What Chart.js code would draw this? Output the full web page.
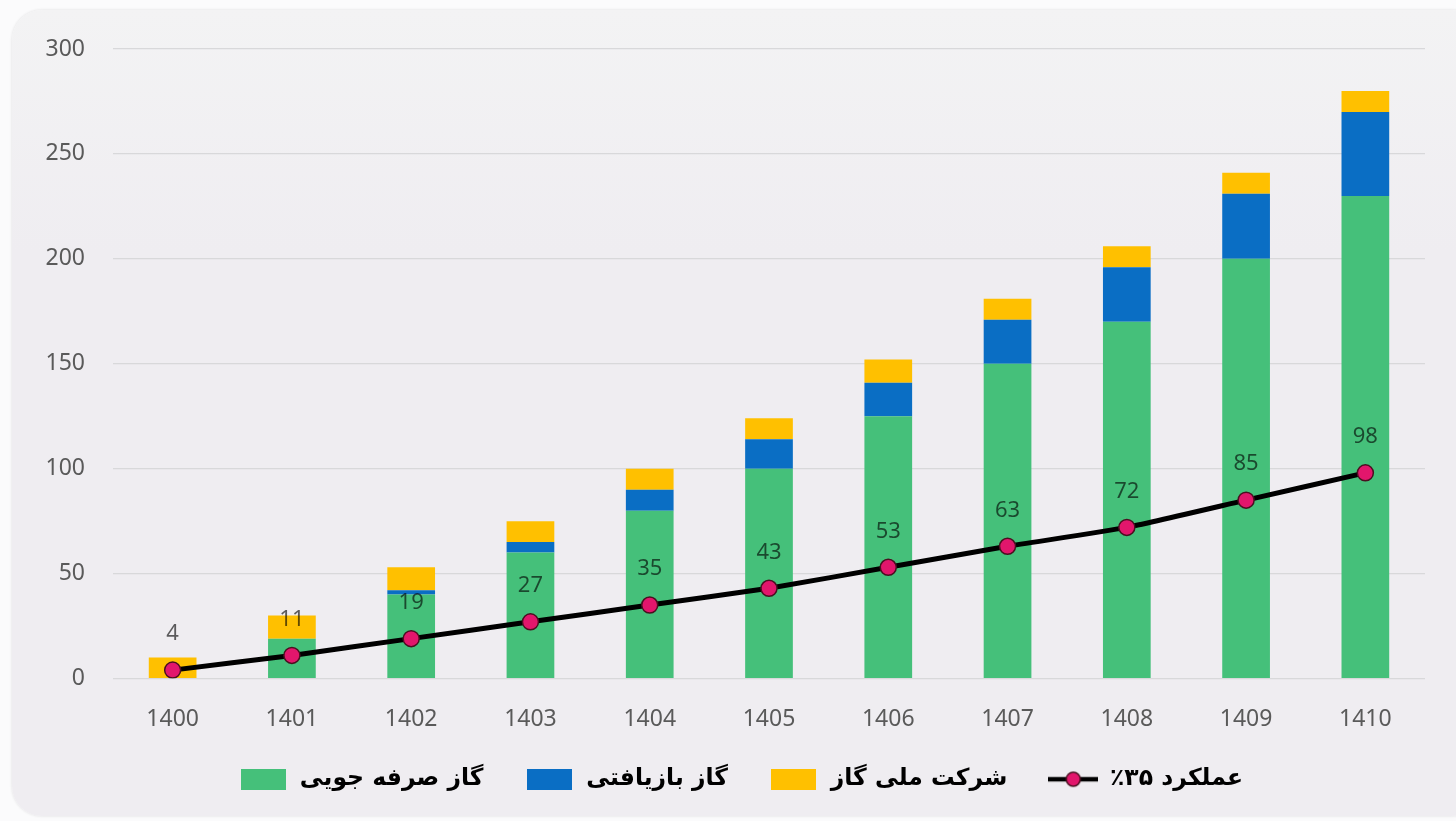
<!DOCTYPE html>
<html>
<head>
<meta charset="utf-8">
<script src="https://cdn.jsdelivr.net/npm/chart.js@4"></script>
<style>
  html, body { margin: 0; padding: 0; background: #fbfbfc; width: 1456px; height: 821px; overflow: hidden; }
  #panel { position: absolute; left: 12px; top: 10px; width: 1470px; height: 806px; border-radius: 30px;
           background: linear-gradient(#f3f3f4, #efedf1 30%, #efedf1); box-shadow: 0 0 3px rgba(0,0,0,0.12); }
  #wrap { position: absolute; left: 0; top: 0; width: 1456px; height: 821px; }
</style>
</head>
<body>
<div id="panel"></div>
<div id="wrap"><canvas id="c" width="1456" height="821"></canvas></div>
<script>
const categories = ['1400','1401','1402','1403','1404','1405','1406','1407','1408','1409','1410'];
const savedGas     = [0, 19, 40, 60, 80, 100, 125, 150, 170, 200, 230];
const recoveredGas = [0, 0, 2, 5, 10, 14, 16, 21, 26, 31, 40];
const nigcGas      = [10, 11, 11, 10, 10, 10, 11, 10, 10, 10, 10];
const performance  = [4, 11, 19, 27, 35, 43, 53, 63, 72, 85, 98];
const yTicks = [0, 50, 100, 150, 200, 250, 300];
const seriesNames = ['گاز صرفه جویی', 'گاز بازیافتی', 'شرکت ملی گاز', 'عملکرد ۳۵٪'];

const GREEN = '#45c07a', BLUE = '#0a6ec4', YELLOW = '#ffc000', PINK = '#e2166c', DARK = '#4a1020';

function rectIcon(color) {
  const c = document.createElement('canvas'); c.width = 45; c.height = 21;
  const x = c.getContext('2d'); x.fillStyle = color; x.fillRect(0, 0, 45, 21); return c;
}
function lineIcon() {
  const c = document.createElement('canvas'); c.width = 50; c.height = 20;
  const x = c.getContext('2d');
  x.strokeStyle = '#000'; x.lineWidth = 4.5; x.beginPath(); x.moveTo(0, 10); x.lineTo(50, 10); x.stroke();
  x.fillStyle = PINK; x.strokeStyle = DARK; x.lineWidth = 1.5;
  x.beginPath(); x.arc(25, 10, 7, 0, Math.PI * 2); x.fill(); x.stroke(); return c;
}
const icons = [rectIcon(GREEN), rectIcon(BLUE), rectIcon(YELLOW), lineIcon()];

const valueLabels = {
  id: 'valueLabels',
  afterDatasetsDraw(chart) {
    const ctx = chart.ctx;
    const meta = chart.getDatasetMeta(3);
    ctx.save();
    ctx.font = '22px "Noto Sans"';
    ctx.fillStyle = 'rgba(0,0,0,0.62)';
    ctx.textAlign = 'center'; ctx.textBaseline = 'middle';
    meta.data.forEach((pt, i) => {
      ctx.fillText(String(performance[i]), pt.x, pt.y - 36);
    });
    ctx.restore();
  }
};

const legendShift = {
  id: 'legendShift',
  afterLayout(chart) {
    if (chart.legend) { chart.legend.left += 28; chart.legend.right += 28; }
  }
};

new Chart(document.getElementById('c'), {
  data: {
    labels: categories,
    datasets: [
      { type: 'bar', label: seriesNames[0], data: savedGas, backgroundColor: GREEN, stack: 'bars', order: 1 },
      { type: 'bar', label: seriesNames[1], data: recoveredGas, backgroundColor: BLUE, stack: 'bars', order: 1 },
      { type: 'bar', label: seriesNames[2], data: nigcGas, backgroundColor: YELLOW, stack: 'bars', order: 1 },
      { type: 'line', label: seriesNames[3], data: performance, stack: 'line', order: 0,
        borderColor: '#000', borderWidth: 5, tension: 0.15,
        pointRadius: 8, pointBackgroundColor: PINK, pointBorderColor: DARK, pointBorderWidth: 1.5 }
    ]
  },
  options: {
    responsive: false,
    animation: false,
    devicePixelRatio: 1,
    categoryPercentage: 0.8,
    barPercentage: 0.5,
    layout: { padding: { top: 49, right: 31, left: 0, bottom: 20 } },
    scales: {
      x: {
        stacked: true,
        grid: { display: false, drawTicks: false },
        border: { display: false },
        ticks: { color: '#5a5a5a', font: { family: 'Noto Sans', size: 23 }, padding: 27 },
        afterFit(s) { s.height = 48; }
      },
      y: {
        stacked: true,
        min: 0, max: 300,
        afterBuildTicks(s) { s.ticks = yTicks.map(v => ({ value: v })); },
        grid: { color: '#d8d8da', lineWidth: 1.2, drawTicks: false },
        border: { display: false },
        ticks: { color: '#5a5a5a', font: { family: 'Noto Sans', size: 23 }, padding: 28 },
        afterFit(s) { s.width = 113; }
      }
    },
    plugins: {
      tooltip: { enabled: false },
      legend: {
        position: 'bottom',
        textDirection: 'rtl',
        labels: {
          color: '#3c3c3c',
          font: { family: 'DejaVu Sans', size: 23.5, weight: 'bold' },
          usePointStyle: true,
          pointStyleWidth: 50,
          padding: 41,
          generateLabels(chart) {
            return chart.data.datasets.map((d, i) => ({
              text: d.label, datasetIndex: i, pointStyle: icons[i],
              fillStyle: 'transparent', strokeStyle: 'transparent', lineWidth: 0, hidden: false
            }));
          }
        }
      }
    }
  },
  plugins: [valueLabels, legendShift]
});
</script>
</body>
</html>
